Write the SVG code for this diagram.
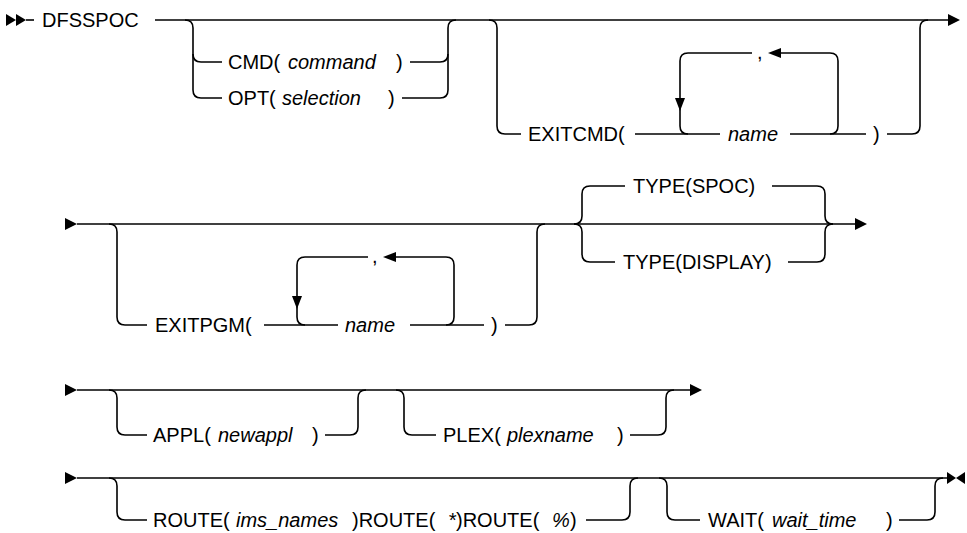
<svg xmlns="http://www.w3.org/2000/svg" width="967" height="533" viewBox="0 0 967 533">
<style>
.l{fill:none;stroke:#000;stroke-width:1.6}
.a{fill:#000}
text{font-family:"Liberation Sans",Arial,sans-serif;font-size:20px;fill:#000}
.v{font-style:italic}
</style>
<rect width="967" height="533" fill="#fff"/>
<g id="connectors">
<!-- row 1 -->
<polygon class="a" points="6,14 16,20 6,26"/>
<polygon class="a" points="16,14 26,20 16,26"/>
<path class="l" d="M26,20 H34"/>
<path class="l" d="M155,20 H948"/>
<polygon class="a" points="948,14 960,20 948,26"/>
<path class="l" d="M185,20 Q193,20 193,28 V90 Q193,98 201,98 H222"/>
<path class="l" d="M193,54 Q193,62 201,62 H222"/>
<path class="l" d="M410,62 H440 Q448,62 448,54 V28 Q448,20 456,20"/>
<path class="l" d="M402,98 H440 Q448,98 448,90 V54"/>
<path class="l" d="M489,20 Q497,20 497,28 V126 Q497,134 505,134 H521"/>
<path class="l" d="M635,134 H720"/>
<path class="l" d="M688,134 Q680,134 680,126 V61 Q680,53 688,53 H752"/>
<polygon class="a" points="675,98 685,98 680,111"/>
<polygon class="a" points="768,53 781,48 781,58"/>
<path class="l" d="M781,53 H830 Q838,53 838,61 V126 Q838,134 830,134"/>
<path class="l" d="M790,134 H866"/>
<path class="l" d="M887,134 H912 Q920,134 920,126 V28 Q920,20 928,20"/>
<!-- row 2 -->
<polygon class="a" points="65,218 77,224 65,230"/>
<path class="l" d="M77,224 H855"/>
<polygon class="a" points="855,218 867,224 855,230"/>
<path class="l" d="M109,224 Q117,224 117,232 V317 Q117,325 125,325 H147"/>
<path class="l" d="M264,325 H338"/>
<path class="l" d="M305,325 Q297,325 297,317 V265 Q297,257 305,257 H368"/>
<polygon class="a" points="292,296 302,296 297,309"/>
<polygon class="a" points="383,257 396,252 396,262"/>
<path class="l" d="M396,257 H446 Q454,257 454,265 V317 Q454,325 446,325"/>
<path class="l" d="M410,325 H484"/>
<path class="l" d="M505,325 H529 Q537,325 537,317 V232 Q537,224 545,224"/>
<path class="l" d="M574,224 Q582,224 582,216 V194 Q582,186 590,186 H625"/>
<path class="l" d="M574,224 Q582,224 582,232 V254 Q582,262 590,262 H615"/>
<path class="l" d="M772,186 H817 Q825,186 825,194 V216 Q825,224 833,224"/>
<path class="l" d="M788,262 H817 Q825,262 825,254 V232 Q825,224 833,224"/>
<!-- row 3 -->
<polygon class="a" points="65,384 77,390 65,396"/>
<path class="l" d="M77,390 H690"/>
<polygon class="a" points="690,384 702,390 690,396"/>
<path class="l" d="M109,390 Q117,390 117,398 V427 Q117,435 125,435 H147"/>
<path class="l" d="M325,435 H350 Q358,435 358,427 V398 Q358,390 366,390"/>
<path class="l" d="M396,390 Q404,390 404,398 V427 Q404,435 412,435 H436"/>
<path class="l" d="M630,435 H658 Q666,435 666,427 V398 Q666,390 674,390"/>
<!-- row 4 -->
<polygon class="a" points="65,472 77,478 65,484"/>
<path class="l" d="M77,478 H948"/>
<polygon class="a" points="947,472 956,478 947,484"/>
<polygon class="a" points="965,472 956,478 965,484"/>
<path class="l" d="M109,478 Q117,478 117,486 V512 Q117,520 125,520 H147"/>
<path class="l" d="M586,520 H622 Q630,520 630,512 V486 Q630,478 638,478"/>
<path class="l" d="M659,478 Q667,478 667,486 V512 Q667,520 675,520 H700"/>
<path class="l" d="M899,520 H927 Q935,520 935,512 V486 Q935,478 943,478"/>
</g>
<g id="dfsspoc"><text x="42" y="27">DFSSPOC</text></g>
<g id="cmd"><text x="228" y="69">CMD(</text><text class="v" x="288" y="69">command</text><text x="396" y="69">)</text></g>
<g id="opt"><text x="228" y="105">OPT(</text><text class="v" x="282" y="105">selection</text><text x="388" y="105">)</text></g>
<g id="exitcmd"><text x="528" y="141">EXITCMD(</text><text x="757" y="59">,</text><text class="v" x="728" y="141">name</text><text x="873" y="141">)</text></g>
<g id="exitpgm"><text x="155" y="332">EXITPGM(</text><text x="372" y="263">,</text><text class="v" x="345" y="332">name</text><text x="491" y="332">)</text></g>
<g id="type-spoc"><text x="633" y="193">TYPE(SPOC)</text></g>
<g id="type-display"><text x="623" y="269">TYPE(DISPLAY)</text></g>
<g id="appl"><text x="153" y="442">APPL(</text><text class="v" x="218" y="442">newappl</text><text x="312" y="442">)</text></g>
<g id="plex"><text x="443" y="442">PLEX(</text><text class="v" x="507" y="442">plexname</text><text x="617" y="442">)</text></g>
<g id="route"><text x="153" y="527">ROUTE(</text><text class="v" x="236" y="527">ims_names</text><text x="352" y="527">)ROUTE(</text><text class="v" x="448" y="527">*</text><text x="456" y="527">)ROUTE(</text><text class="v" x="552" y="527">%</text><text x="570" y="527">)</text></g>
<g id="wait"><text x="708" y="527">WAIT(</text><text class="v" x="772" y="527">wait_time</text><text x="886" y="527">)</text></g>
</svg>
